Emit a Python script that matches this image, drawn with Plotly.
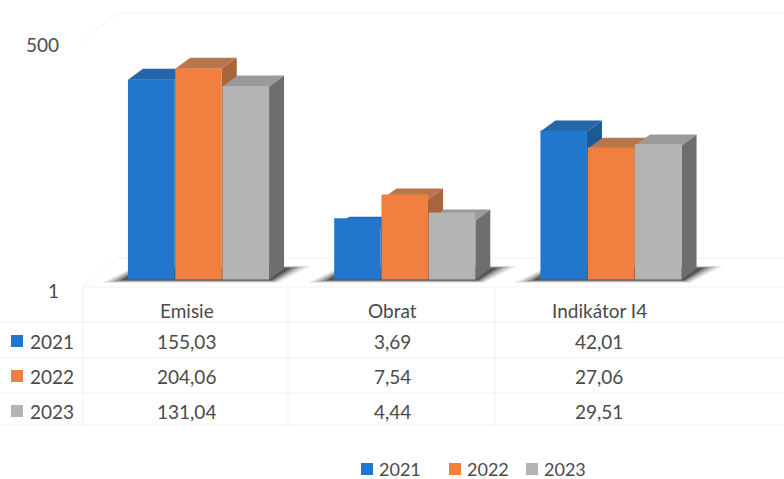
import math
import plotly.graph_objects as go

# ---- data -------------------------------------------------------------
categories = ["Emisie", "Obrat", "Indikátor I4"]
years = ["2021", "2022", "2023"]
values_2021 = [155.03, 3.69, 42.01]
values_2022 = [204.06, 7.54, 27.06]
values_2023 = [131.04, 4.44, 29.51]
axis_ticks = [1, 500]

series = [values_2021, values_2022, values_2023]

# ---- styling ----------------------------------------------------------
FRONT = ["#2176cd", "#f18040", "#b4b4b4"]
TOP = ["#2466a8", "#b8764a", "#9a9a9a"]
SIDE = ["#1c5a96", "#a8643a", "#6e6e6e"]
TEXT = "#4a4a4a"
GRID = "#efefef"
WALL = "#f2f2f2"
FONT = "Lato"
FS = 19

W, H = 784, 479
PX_X = 206.25                     # pixels per category step
X0 = -198.5 / PX_X
X1 = X0 + W / PX_X
BASE_PX = 279.5                   # pixel row of value 1
PX_DEC = 91.2                     # pixels per decade
Y1 = BASE_PX / PX_DEC
Y0 = -(H - BASE_PX) / PX_DEC

BAR_W = 46.5 / PX_X
BAR_PITCH = 47.3 / PX_X
OFFSETS = [(i - 1) * BAR_PITCH - BAR_W / 2 for i in range(3)]
DEPTH_X, DEPTH_Y = 15, 11         # oblique depth in pixels


def dx(px):
    return px / PX_X


def lift(v, px):
    """Value that sits px pixels above v on the log axis."""
    return v * 10 ** (px / PX_DEC)


def poly(points):
    return "M " + " L ".join(f"{x:.5f},{y:.6g}" for x, y in points) + " Z"


def fmt(v):
    return f"{v:.2f}".replace(".", ",")


def xp(px):
    return px / W


def yp(py):
    return 1 - py / H


fig = go.Figure()
shapes = []

# soft floor shadows under each group (stacked translucent layers)
for g in range(len(categories)):
    left = g + OFFSETS[0]
    right = g + OFFSETS[2] + BAR_W
    for spread, alpha in [(26, 0.10), (20, 0.16), (14, 0.26), (8, 0.40)]:
        shapes.append(dict(
            type="path", xref="x", yref="y", layer="below", line_width=0,
            fillcolor=f"rgba(0,0,0,{alpha})",
            path=poly([(left - dx(spread), lift(1, -spread / 8)),
                       (right + dx(spread / 3), lift(1, -spread / 8)),
                       (right + dx(DEPTH_X + spread), lift(1, DEPTH_Y + spread / 10)),
                       (left + dx(DEPTH_X - spread / 4), lift(1, DEPTH_Y + spread / 10))])))

# side and top faces, painted left to right
for g in range(len(categories)):
    for i, vals in enumerate(series):
        v = vals[g]
        left = g + OFFSETS[i]
        right = left + BAR_W
        d = dx(DEPTH_X)
        shapes.append(dict(
            type="path", xref="x", yref="y", layer="below", line_width=0,
            fillcolor=SIDE[i],
            path=poly([(right, 1), (right, v), (right + d, lift(v, DEPTH_Y)),
                       (right + d, lift(1, DEPTH_Y))])))
        shapes.append(dict(
            type="path", xref="x", yref="y", layer="below", line_width=0,
            fillcolor=TOP[i],
            path=poly([(left, v), (right, v), (right + d, lift(v, DEPTH_Y)),
                       (left + d, lift(v, DEPTH_Y))])))

# front faces
for i, vals in enumerate(series):
    fig.add_trace(go.Bar(
        x=list(range(len(categories))), y=vals, base=1,
        width=BAR_W, offset=OFFSETS[i], name=years[i],
        marker=dict(color=FRONT[i], line=dict(width=0)),
        hoverinfo="skip", showlegend=False,
    ))

# faint walls / floor outline
wall = [((117, 13), (784, 13)), ((83, 41), (117, 13)),
        ((117, 258), (784, 258)), ((83, 287), (117, 258)),
        ((83, 287), (784, 287))]
for (ax_, ay_), (bx_, by_) in wall:
    shapes.append(dict(type="line", xref="paper", yref="paper",
                       x0=xp(ax_), y0=yp(ay_), x1=xp(bx_), y1=yp(by_),
                       line=dict(color=WALL, width=1), layer="below"))

# data table grid
for py in [322, 358, 393, 425]:
    shapes.append(dict(type="line", xref="paper", yref="paper",
                       x0=0, x1=1, y0=yp(py), y1=yp(py),
                       line=dict(color=GRID, width=1), layer="below"))
for px in [83, 288, 495]:
    shapes.append(dict(type="line", xref="paper", yref="paper",
                       x0=xp(px), x1=xp(px), y0=yp(287), y1=yp(425),
                       line=dict(color=GRID, width=1), layer="below"))

annotations = []
font = dict(family=FONT, size=FS, color=TEXT)

# value axis labels
for t in axis_ticks:
    annotations.append(dict(xref="paper", yref="y", x=xp(61), y=math.log10(t),
                            yshift=-11, text=str(t), showarrow=False,
                            xanchor="right", yanchor="middle", font=font))

# table header and cells
HEADER_Y = 310
ROW_Y = [341, 376, 411]
for g, cat in enumerate(categories):
    annotations.append(dict(xref="x", yref="paper", x=g, xshift=-12,
                            y=yp(HEADER_Y), text=cat, showarrow=False,
                            xanchor="center", yanchor="middle", font=font))
    for i, vals in enumerate(series):
        annotations.append(dict(xref="x", yref="paper", x=g, xshift=-12,
                                y=yp(ROW_Y[i]), text=fmt(vals[g]), showarrow=False,
                                xanchor="center", yanchor="middle", font=font))

# row keys
for i, yr in enumerate(years):
    cy = ROW_Y[i]
    shapes.append(dict(type="rect", xref="paper", yref="paper",
                       x0=xp(11), x1=xp(23), y0=yp(cy - 6), y1=yp(cy + 6),
                       fillcolor=FRONT[i], line_width=0))
    annotations.append(dict(xref="paper", yref="paper", x=xp(28), y=yp(cy),
                            text=yr, showarrow=False, xanchor="left",
                            yanchor="middle", font=font))

# legend
LEG_Y = 469
LEG_SQ = [361, 449, 526]
for i, yr in enumerate(years):
    sx = LEG_SQ[i]
    shapes.append(dict(type="rect", xref="paper", yref="paper",
                       x0=xp(sx), x1=xp(sx + 12), y0=yp(LEG_Y - 6), y1=yp(LEG_Y + 6),
                       fillcolor=FRONT[i], line_width=0))
    annotations.append(dict(xref="paper", yref="paper", x=xp(sx + 16), y=yp(LEG_Y),
                            text=yr, showarrow=False, xanchor="left",
                            yanchor="middle", height=18, font=dict(font, size=18)))

fig.update_layout(
    width=W, height=H,
    margin=dict(l=0, r=0, t=0, b=0),
    paper_bgcolor="white", plot_bgcolor="white",
    barmode="overlay",
    showlegend=False,
    xaxis=dict(range=[X0, X1], visible=False, fixedrange=True),
    yaxis=dict(type="log", range=[Y0, Y1], visible=False, fixedrange=True),
    shapes=shapes,
    annotations=annotations,
    font=font,
)

fig.write_html("out.html", config={"displayModeBar": False})
